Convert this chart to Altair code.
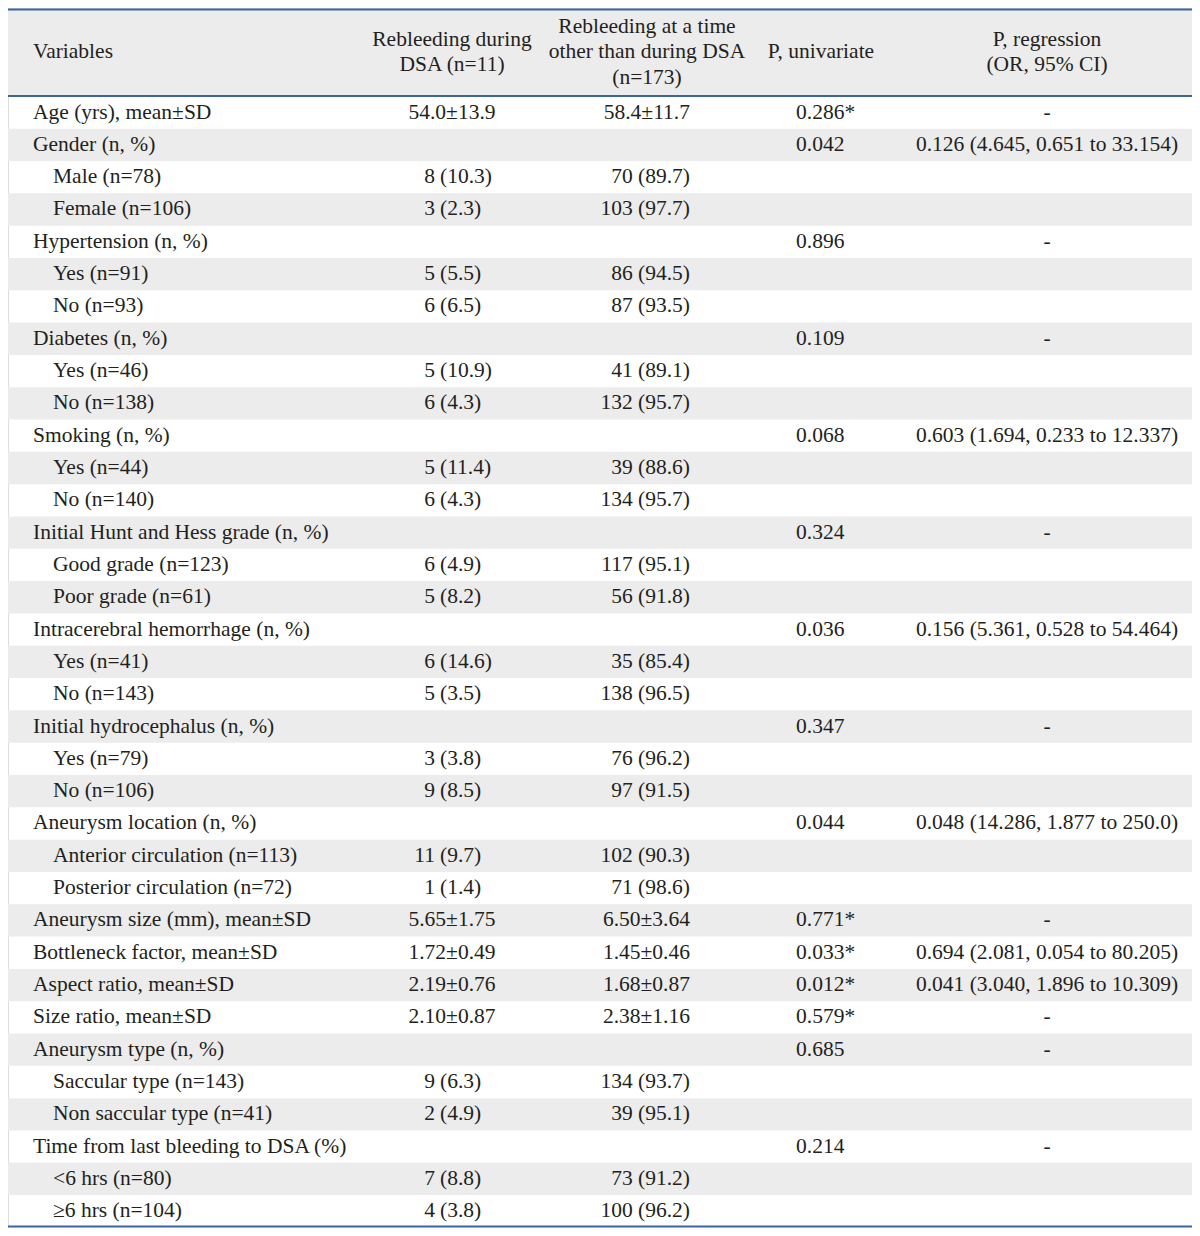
import altair as alt
import pandas as pd

# ---------------- table content ----------------
labels = [
    "Age (yrs), mean±SD", "Gender (n, %)", "Male (n=78)", "Female (n=106)",
    "Hypertension (n, %)", "Yes (n=91)", "No (n=93)",
    "Diabetes (n, %)", "Yes (n=46)", "No (n=138)",
    "Smoking (n, %)", "Yes (n=44)", "No (n=140)",
    "Initial Hunt and Hess grade (n, %)", "Good grade (n=123)", "Poor grade (n=61)",
    "Intracerebral hemorrhage (n, %)", "Yes (n=41)", "No (n=143)",
    "Initial hydrocephalus (n, %)", "Yes (n=79)", "No (n=106)",
    "Aneurysm location (n, %)", "Anterior circulation (n=113)", "Posterior circulation (n=72)",
    "Aneurysm size (mm), mean±SD", "Bottleneck factor, mean±SD", "Aspect ratio, mean±SD",
    "Size ratio, mean±SD",
    "Aneurysm type (n, %)", "Saccular type (n=143)", "Non saccular type (n=41)",
    "Time from last bleeding to DSA (%)", "<6 hrs (n=80)", "≥6 hrs (n=104)",
]
sub_item = [0, 0, 1, 1, 0, 1, 1, 0, 1, 1, 0, 1, 1, 0, 1, 1, 0, 1, 1, 0, 1, 1,
            0, 1, 1, 0, 0, 0, 0, 0, 1, 1, 0, 1, 1]
dsa = [
    "54.0±13.9", "", "8 (10.3)", "3 (2.3)", "", "5 (5.5)", "6 (6.5)",
    "", "5 (10.9)", "6 (4.3)", "", "5 (11.4)", "6 (4.3)",
    "", "6 (4.9)", "5 (8.2)", "", "6 (14.6)", "5 (3.5)",
    "", "3 (3.8)", "9 (8.5)", "", "11 (9.7)", "1 (1.4)",
    "5.65±1.75", "1.72±0.49", "2.19±0.76", "2.10±0.87",
    "", "9 (6.3)", "2 (4.9)", "", "7 (8.8)", "4 (3.8)",
]
other = [
    "58.4±11.7", "", "70 (89.7)", "103 (97.7)", "", "86 (94.5)", "87 (93.5)",
    "", "41 (89.1)", "132 (95.7)", "", "39 (88.6)", "134 (95.7)",
    "", "117 (95.1)", "56 (91.8)", "", "35 (85.4)", "138 (96.5)",
    "", "76 (96.2)", "97 (91.5)", "", "102 (90.3)", "71 (98.6)",
    "6.50±3.64", "1.45±0.46", "1.68±0.87", "2.38±1.16",
    "", "134 (93.7)", "39 (95.1)", "", "73 (91.2)", "100 (96.2)",
]
p_univariate = [
    "0.286*", "0.042", "", "", "0.896", "", "", "0.109", "", "",
    "0.068", "", "", "0.324", "", "", "0.036", "", "", "0.347", "", "",
    "0.044", "", "", "0.771*", "0.033*", "0.012*", "0.579*",
    "0.685", "", "", "0.214", "", "",
]
p_regression = [
    "-", "0.126 (4.645, 0.651 to 33.154)", "", "", "-", "", "", "-", "", "",
    "0.603 (1.694, 0.233 to 12.337)", "", "", "-", "", "",
    "0.156 (5.361, 0.528 to 54.464)", "", "", "-", "", "",
    "0.048 (14.286, 1.877 to 250.0)", "", "",
    "-", "0.694 (2.081, 0.054 to 80.205)", "0.041 (3.040, 1.896 to 10.309)", "-",
    "-", "", "", "-", "", "",
]
header_variables = ["Variables"]
header_dsa = ["Rebleeding during", "DSA (n=11)"]
header_other = ["Rebleeding at a time", "other than during DSA", "(n=173)"]
header_puni = ["P, univariate"]
header_preg = ["P, regression", "(OR, 95% CI)"]

# ---------------- layout (reference pixel units) ----------------
X0, X1 = 8, 1192          # visible horizontal window of the reference
Y0, Y1 = 4, 1232.5        # visible vertical window of the reference
ROW_TOP = 93.0
ROW_H = 32.54
HEAD_TOP, HEAD_BOT = 5, 92
HEAD_MID = 48.5
HEAD_LINE = 25.5
COL = {"var": 33, "sub": 53, "dsa_c": 452, "dsa_paren": 440, "oth_r": 690,
       "puni_l": 796, "puni_c": 821, "preg_c": 1047, "dsa_h": 452, "oth_h": 647}
FONT = "Liberation Serif"
FS = 21.5
TXT = "#231f20"
GRAY = "#ececec"
BLUE = "#3b64a0"

n = len(labels)
texts = []


def add(x, y, t, align):
    if t:
        texts.append({"x": x, "y": y, "t": t, "align": align})


for i in range(n):
    yc = ROW_TOP + ROW_H * (i + 0.5)
    add(COL["sub"] if sub_item[i] else COL["var"], yc, labels[i], "left")
    v = dsa[i]
    if "(" in v:
        num, pct = v.split(" ", 1)
        add(COL["dsa_paren"] - 5, yc, num, "right")
        add(COL["dsa_paren"], yc, pct, "left")
    else:
        add(COL["dsa_c"], yc, v, "center")
    add(COL["oth_r"], yc, other[i], "right")
    add(COL["puni_l"], yc, p_univariate[i], "left")
    add(COL["preg_c"], yc, p_regression[i], "center")


def add_header(lines, x, align):
    k = len(lines)
    for j, t in enumerate(lines):
        add(x, HEAD_MID + (j - (k - 1) / 2) * HEAD_LINE, t, align)


add_header(header_variables, COL["var"], "left")
add_header(header_dsa, COL["dsa_h"], "center")
add_header(header_other, COL["oth_h"], "center")
add_header(header_puni, COL["puni_c"], "center")
add_header(header_preg, COL["preg_c"], "center")

text_df = pd.DataFrame(texts)

bands = [{"x": X0, "x2": X1, "y": HEAD_TOP, "y2": HEAD_BOT}]
for i in range(n):
    if i % 2 == 1:
        bands.append({"x": X0, "x2": X1, "y": ROW_TOP + ROW_H * i, "y2": ROW_TOP + ROW_H * (i + 1)})
band_df = pd.DataFrame(bands)

rules_df = pd.DataFrame({"x": [X0] * 3, "x2": [X1] * 3, "y": [5.4, 92.5, 1231.0]})

W, H = 1184, 1220
xs = alt.Scale(domain=[X0, X1], nice=False, zero=False)
ys = alt.Scale(domain=[Y0, Y1], nice=False, zero=False, reverse=True)

band_layer = alt.Chart(band_df).mark_rect(color=GRAY, strokeWidth=0).encode(
    x=alt.X("x:Q", scale=xs, axis=None), x2="x2:Q",
    y=alt.Y("y:Q", scale=ys, axis=None), y2="y2:Q",
)
rule_layer = alt.Chart(rules_df).mark_rule(color=BLUE, strokeWidth=2).encode(
    x=alt.X("x:Q", scale=xs, axis=None), x2="x2:Q",
    y=alt.Y("y:Q", scale=ys, axis=None),
)


def text_layer(align):
    return alt.Chart(text_df[text_df["align"] == align]).mark_text(
        align=align, baseline="middle", font=FONT, fontSize=FS, color=TXT
    ).encode(
        x=alt.X("x:Q", scale=xs, axis=None),
        y=alt.Y("y:Q", scale=ys, axis=None),
        text="t:N",
    )


chart = alt.layer(
    band_layer, rule_layer, text_layer("left"), text_layer("center"), text_layer("right")
).properties(
    width=W, height=H, padding=0, autosize=alt.AutoSizeParams(type="none")
).configure_view(stroke=None).configure(background="white")

chart.save("out.html", embed_options={"renderer": "svg", "actions": False})
